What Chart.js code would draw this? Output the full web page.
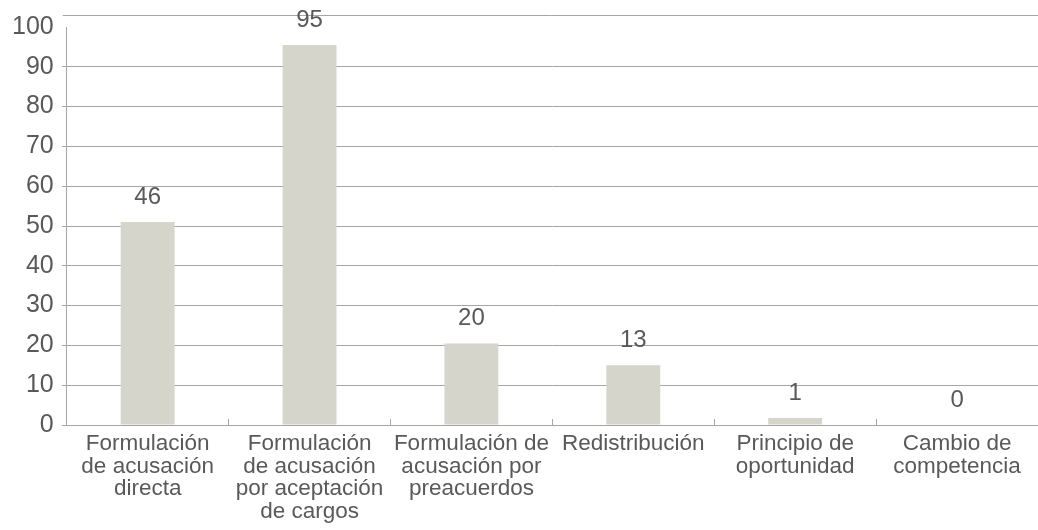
<!DOCTYPE html>
<html>
<head>
<meta charset="utf-8">
<script src="https://cdn.jsdelivr.net/npm/chart.js@4"></script>
<style>
  html, body { margin: 0; padding: 0; background: #fff; }
  #wrap { width: 1038px; height: 530px; }
</style>
</head>
<body>
<div id="wrap"><canvas id="chart" width="1038" height="530"></canvas></div>
<script>
// datos
const categorias = [
  ['Formulación', 'de acusación', 'directa'],
  ['Formulación', 'de acusación', 'por aceptación', 'de cargos'],
  ['Formulación de', 'acusación por', 'preacuerdos'],
  ['Redistribución'],
  ['Principio de', 'oportunidad'],
  ['Cambio de', 'competencia']
];
// altura de las barras tal como se ven en la imagen
const alturas = [51, 95.5, 20.5, 15, 1.75, 0];
// etiquetas escritas sobre cada barra
const etiquetas = ['46', '95', '20', '13', '1', '0'];
const ticksY = [0, 10, 20, 30, 40, 50, 60, 70, 80, 90, 100];

const gris = '#a6a6a6';
const texto = '#595959';
const fuente = "'Liberation Sans', Arial, sans-serif";

// etiquetas de valor encima de las barras + línea superior
const extras = {
  id: 'extras',
  afterDatasetsDraw(chart) {
    const ctx = chart.ctx;
    const area = chart.chartArea;
    ctx.save();
    ctx.strokeStyle = gris;
    ctx.lineWidth = 1;
    ctx.beginPath();
    ctx.moveTo(area.left - 4, area.top - 11.5);
    ctx.lineTo(area.right, area.top - 11.5);
    ctx.stroke();

    ctx.fillStyle = texto;
    ctx.font = '24px ' + fuente;
    ctx.textAlign = 'center';
    ctx.textBaseline = 'bottom';
    chart.getDatasetMeta(0).data.forEach((bar, i) => {
      ctx.fillText(etiquetas[i], bar.x, bar.y - 13);
    });
    ctx.restore();
  }
};

new Chart(document.getElementById('chart'), {
  type: 'bar',
  data: {
    labels: categorias,
    datasets: [{
      data: alturas,
      backgroundColor: '#d5d5cc',
      barPercentage: 0.333,
      categoryPercentage: 1
    }]
  },
  options: {
    responsive: false,
    animation: false,
    layout: { padding: { left: 4, top: 27, right: 0, bottom: -7 } },
    plugins: { legend: { display: false }, tooltip: { enabled: false } },
    scales: {
      x: {
        grid: {
          offset: true,
          drawOnChartArea: false,
          color: gris,
          tickLength: -6
        },
        border: { color: gris, width: 1 },
        ticks: {
          color: texto,
          font: { family: fuente, size: 22.5, lineHeight: 1.0 },
          maxRotation: 0,
          autoSkip: false,
          padding: 14
        }
      },
      y: {
        min: 0,
        max: 100,
        afterBuildTicks(axis) { axis.ticks = ticksY.map(v => ({ value: v })); },
        grid: {
          color: c => (c.tick && c.tick.value === 100) ? 'rgba(0,0,0,0)' : gris,
          tickLength: 5
        },
        border: { color: gris, width: 1 },
        ticks: {
          color: texto,
          font: { family: fuente, size: 25 },
          padding: 8
        }
      }
    }
  },
  plugins: [extras]
});
</script>
</body>
</html>
